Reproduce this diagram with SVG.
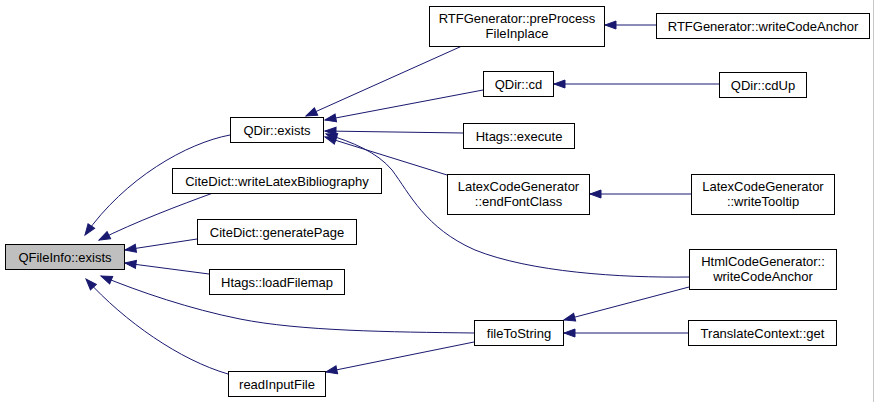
<svg xmlns="http://www.w3.org/2000/svg" width="875" height="402" viewBox="0 0 875 402">
<style>
.n rect{fill:#fff;stroke:#000;stroke-width:1}
.n.hl rect{fill:#bfbfbf}
.n text{font-family:"Liberation Sans",Arial,sans-serif;font-size:13px;text-anchor:middle;fill:#000}
.e path{fill:none;stroke:#191970;stroke-width:1;marker-end:url(#a)}
</style>
<defs>
<marker id="a" markerUnits="userSpaceOnUse" markerWidth="13" markerHeight="10" refX="11" refY="4" orient="auto" overflow="visible">
<path d="M0,0 L11,4 L0,8 z" fill="#191970" stroke="#191970"/>
</marker>
</defs>
<rect width="875" height="402" fill="#fff"/>
<line x1="873.5" y1="0" x2="873.5" y2="402" stroke="#c8c8c8"/>
<g class="e">
<path d="M230,135 C187,143 125,178 85,235"/>
<path d="M213,193 C180,205 135,222 99,240"/>
<path d="M197,239 L125,250"/>
<path d="M209,274 L125,263"/>
<path d="M474,333 C390,332 300,331 240,319 C190,309 140,292 101,276"/>
<path d="M228,374 C180,360 125,322 86,279"/>
<path d="M462,46 L306,116"/>
<path d="M483,90 L325,120"/>
<path d="M463,133 L325,131"/>
<path d="M447,175 L325,137"/>
<path d="M689,277 C620,278 530,272 475,250 C425,228 410,194 392,170 C377,152 352,142 326,134"/>
<path d="M656,25 L605,25"/>
<path d="M719,84 L554,84"/>
<path d="M691,194 L590,194"/>
<path d="M689,287 L564,320"/>
<path d="M688,333 L564,333"/>
<path d="M474,342 L326,372"/>
</g>
<g id="qfileinfo_exists" class="n hl"><rect x="5.5" y="244.5" width="119" height="25"/><text x="65" y="261.5">QFileInfo::exists</text></g>
<g id="qdir_exists" class="n"><rect x="230.5" y="117.5" width="93" height="25"/><text x="277" y="134.5">QDir::exists</text></g>
<g id="citedict_writelatexbibliography" class="n"><rect x="172.5" y="168.5" width="209" height="25"/><text x="277" y="185.5">CiteDict::writeLatexBibliography</text></g>
<g id="citedict_generatepage" class="n"><rect x="197.5" y="219.5" width="159" height="25"/><text x="277" y="236.5">CiteDict::generatePage</text></g>
<g id="htags_loadfilemap" class="n"><rect x="209.5" y="269.5" width="135" height="25"/><text x="277" y="286.5">Htags::loadFilemap</text></g>
<g id="readinputfile" class="n"><rect x="228.5" y="371.5" width="97" height="25"/><text x="277" y="388.5">readInputFile</text></g>
<g id="rtf_preprocess" class="n"><rect x="429.5" y="6.5" width="175" height="40"/><text x="517" y="23">RTFGenerator::preProcess</text><text x="517" y="38">FileInplace</text></g>
<g id="qdir_cd" class="n"><rect x="483.5" y="71.5" width="70" height="25"/><text x="518.5" y="88.5">QDir::cd</text></g>
<g id="htags_execute" class="n"><rect x="463.5" y="123.5" width="111" height="25"/><text x="519" y="140.5">Htags::execute</text></g>
<g id="latex_endfontclass" class="n"><rect x="447.5" y="174.5" width="142" height="40"/><text x="518.5" y="191">LatexCodeGenerator</text><text x="518.5" y="206">::endFontClass</text></g>
<g id="filetostring" class="n"><rect x="474.5" y="320.5" width="89" height="25"/><text x="519" y="337.5">fileToString</text></g>
<g id="rtf_writecodeanchor" class="n"><rect x="656.5" y="13.5" width="213" height="25"/><text x="763" y="30.5">RTFGenerator::writeCodeAnchor</text></g>
<g id="qdir_cdup" class="n"><rect x="719.5" y="72.5" width="87" height="25"/><text x="763" y="89.5">QDir::cdUp</text></g>
<g id="latex_writetooltip" class="n"><rect x="691.5" y="174.5" width="143" height="40"/><text x="763" y="191">LatexCodeGenerator</text><text x="763" y="206">::writeTooltip</text></g>
<g id="html_writecodeanchor" class="n"><rect x="689.5" y="249.5" width="147" height="40"/><text x="763" y="266">HtmlCodeGenerator::</text><text x="763" y="281">writeCodeAnchor</text></g>
<g id="translatecontext_get" class="n"><rect x="688.5" y="320.5" width="148" height="25"/><text x="762.5" y="337.5">TranslateContext::get</text></g>
</svg>
